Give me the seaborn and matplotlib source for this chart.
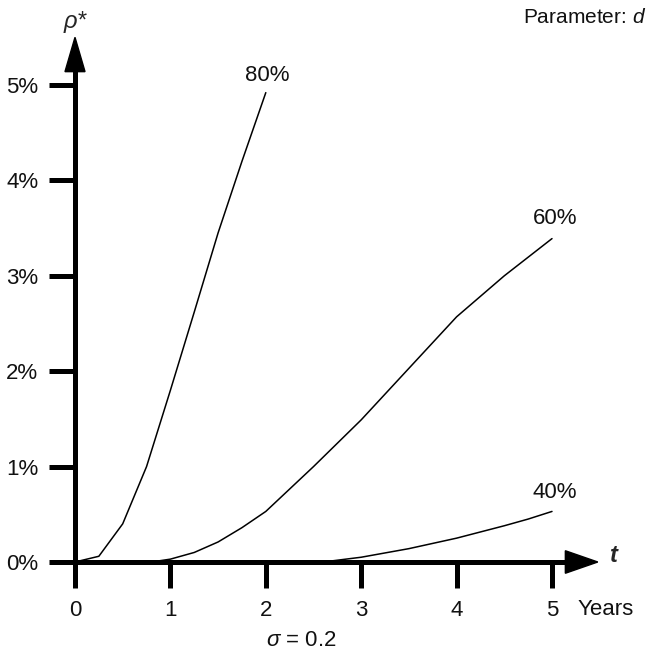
import matplotlib
matplotlib.use("Agg")
import matplotlib.pyplot as plt
from matplotlib.patches import Polygon
import numpy as np
import pandas as pd
import seaborn as sns

# Spread rho* (in %) against time to maturity t (years), sigma = 0.2
t_80 = [0.0, 0.25, 0.5, 0.75, 1.0, 1.25, 1.5, 1.75, 2.0]
rho_80 = [0.0, 0.06, 0.40, 1.00, 1.80, 2.62, 3.45, 4.20, 4.92]

t_60 = [0.8, 1.0, 1.25, 1.5, 1.75, 2.0, 2.5, 3.0, 3.5, 4.0, 4.5, 5.0]
rho_60 = [0.0, 0.03, 0.10, 0.21, 0.36, 0.53, 1.00, 1.49, 2.03, 2.57, 3.00, 3.39]

t_40 = [2.6, 3.0, 3.5, 4.0, 4.5, 4.75, 5.0]
rho_40 = [0.0, 0.05, 0.14, 0.25, 0.38, 0.45, 0.53]

curve_labels = ["80%", "60%", "40%"]
x_ticks = [0, 1, 2, 3, 4, 5]
y_ticks = [0, 1, 2, 3, 4, 5]
y_tick_labels = ["0%", "1%", "2%", "3%", "4%", "5%"]

df = pd.concat([
    pd.DataFrame({"t": t_80, "rho": rho_80, "d": "80%"}),
    pd.DataFrame({"t": t_60, "rho": rho_60, "d": "60%"}),
    pd.DataFrame({"t": t_40, "rho": rho_40, "d": "40%"}),
])

sns.set_style("white")
plt.rcParams["font.family"] = ["Liberation Sans Narrow", "Liberation Sans", "DejaVu Sans"]
plt.rcParams["mathtext.fontset"] = "custom"
plt.rcParams["mathtext.rm"] = "Liberation Sans"
plt.rcParams["mathtext.it"] = "Liberation Sans:italic"
plt.rcParams["mathtext.bf"] = "Liberation Sans:bold"

W, H = 647, 656
fig = plt.figure(figsize=(W / 100, H / 100), dpi=100)
ax = fig.add_axes([0, 0, 1, 1])

ppu = 95.4          # pixels per data unit
x0_px, y0_px = 75, 562
ax.set_xlim(-x0_px / ppu, (W - x0_px) / ppu)
ax.set_ylim(-(H - y0_px) / ppu, y0_px / ppu)

sns.lineplot(data=df, x="t", y="rho", units="d", estimator=None, sort=False,
             color="black", linewidth=1.1, ax=ax, legend=False)

# axes through the origin with heavy ticks
for side in ["top", "right"]:
    ax.spines[side].set_visible(False)
ax.spines["left"].set_position(("data", 0))
ax.spines["bottom"].set_position(("data", 0))
ax.spines["left"].set_bounds(0, 5.2)
ax.spines["bottom"].set_bounds(0, 5.2)
for side in ["left", "bottom"]:
    ax.spines[side].set_linewidth(3.6)
    ax.spines[side].set_color("black")
    ax.spines[side].set_capstyle("projecting")

ax.set_xticks(x_ticks)
ax.set_xticklabels([str(v) for v in x_ticks])
ax.set_yticks(y_ticks)
ax.set_yticklabels(y_tick_labels)
ax.tick_params(axis="both", which="major", bottom=True, left=True,
               direction="out", length=18.5, width=3.6,
               color="black", labelsize=16, labelcolor="#111111")
ax.tick_params(axis="x", pad=9)
ax.tick_params(axis="y", pad=8)
ax.set_xlabel("")
ax.set_ylabel("")
ax.grid(False)

# arrow heads
ax.add_patch(Polygon([[5.14, 0.118], [5.48, 0.0], [5.14, -0.118]],
                     closed=True, color="black", clip_on=False))
ax.add_patch(Polygon([[-0.105, 5.14], [0.0, 5.50], [0.105, 5.14]],
                     closed=True, color="black", clip_on=False))

# axis names and annotations
ax.text(5.61, 0.07, "t", fontsize=17, fontweight="bold", style="italic",
        ha="left", va="center")
ax.text(5.27, -0.556, "Years", fontsize=16, ha="left", va="baseline",
        color="#111111")
ax.text(0.0, 5.66, r"$\rho$*", fontsize=17, ha="center", va="center")
ax.text(5.99, 5.71, r"Parameter: $d$", fontsize=15, ha="right", va="center",
        color="#111111")
ax.text(2.37, -0.82, r"$\sigma$ = 0.2", fontsize=16, ha="center", va="center",
        color="#111111")

label_pos = [(2.01, 5.10), (5.03, 3.60), (5.03, 0.73)]
for lab, (lx, ly) in zip(curve_labels, label_pos):
    ax.text(lx, ly, lab, fontsize=16, ha="center", va="center", color="#111111")

fig.savefig("out.png", dpi=100, facecolor="white")
